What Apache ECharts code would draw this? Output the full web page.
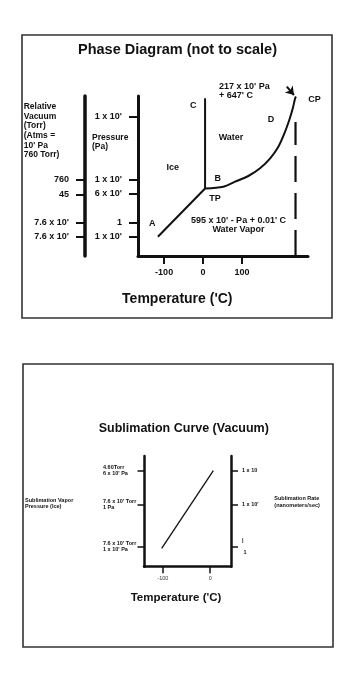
<!DOCTYPE html>
<html>
<head>
<meta charset="utf-8">
<script src="https://cdn.jsdelivr.net/npm/echarts@6/dist/echarts.min.js"></script>
<style>html,body{margin:0;padding:0;background:#fff}#c{width:355px;height:673px}</style>
</head>
<body>
<div id="c"></div>
<script>
// ---------- Phase diagram (not to scale) ----------
const phaseTempTicks = [-100, 0, 100];
// pressure axis is "not to scale": values are diagram levels
const pressureTickLevels = [19.3, 33, 62, 76.7, 139.3];
const pressureTickLabels = ["1 x 10'", "1", "6 x 10'", "1 x 10'", "1 x 10'"];
const torrTickLevels = [19.3, 33, 61, 76.7];
const torrTickLabels = ["7.6 x 10'", "7.6 x 10'", "45", "760"];

const sublimationLineTemp = [-116, 5];
const sublimationLineLevel = [19.3, 67.5];
const meltingLineTemp = [5, 5];
const meltingLineLevel = [67.5, 157.7];
const vaporCurveTemp = [5, 52, 82, 116, 146, 172, 193, 208.5, 221, 230, 236, 238];
const vaporCurveLevel = [67.5, 69.3, 74.3, 80, 87.7, 97.7, 109.3, 122.7, 136, 147.7, 157.7, 159.5];
const criticalLineTemp = [237, 237];
const criticalLineLevel = [0, 134];
const cpArrowTemp = [214.6, 233];
const cpArrowLevel = [169.3, 161];

// ---------- Sublimation curve (vacuum) ----------
const subTempTicks = [-100, 0];
const subPressureLevels = [20, 62.4, 96.4];
const subPressureLabels = ["7.6 x 10' Torr\n1 x 10' Pa", "7.6 x 10' Torr\n1 Pa", "4.60Torr\n6 x 10' Pa"];
const subRateLabels = ["|\n 1", "1 x 10'", "1 x 10"];
const subCurveTemp = [-102.6, 6.6];
const subCurveLevel = [18.4, 96];

const FF = '"Liberation Sans", Arial, Helvetica, sans-serif';
const INK = '#111';

function zip(a, b) { return a.map((v, i) => [v, b[i]]); }
function lookup(levels, labels) {
  return function (v) {
    let best = 0, d = Infinity;
    levels.forEach((l, i) => { const dd = Math.abs(l - v); if (dd < d) { d = dd; best = i; } });
    return labels[best];
  };
}
function txt(x, y, text, size, align, vAlign, lh, weight) {
  return {
    type: 'text', x: x, y: y, silent: true,
    style: {
      text: text, fill: INK,
      font: (weight || 'bold') + ' ' + size + 'px ' + FF,
      textAlign: align || 'center', align: align || 'center',
      textVerticalAlign: vAlign || 'middle', verticalAlign: vAlign || 'middle',
      lineHeight: lh || size * 1.2
    }
  };
}

const chart = echarts.init(document.getElementById('c'), null, { renderer: 'canvas' });

const baseLabel = { fontFamily: FF, fontWeight: 'bold', color: INK };

chart.setOption({
  animation: false,
  backgroundColor: '#fff',
  grid: [
    { left: 138, top: 96, width: 170, height: 160 },
    { left: 144, top: 456, width: 87, height: 110.7 }
  ],
  xAxis: [
    {
      gridIndex: 0, type: 'value', min: -167, max: 269,
      axisLine: { onZero: false, lineStyle: { color: INK, width: 3 } },
      axisTick: { show: true, customValues: phaseTempTicks, length: 8, lineStyle: { color: INK, width: 2 } },
      axisLabel: Object.assign({ customValues: phaseTempTicks, margin: 12, fontSize: 9 }, baseLabel),
      splitLine: { show: false }
    },
    {
      gridIndex: 1, type: 'value', min: -140, max: 44,
      axisLine: { onZero: false, lineStyle: { color: INK, width: 2.5 } },
      axisTick: { show: true, customValues: subTempTicks, length: 6.5, lineStyle: { color: INK, width: 1.5 } },
      axisLabel: { customValues: subTempTicks, margin: 9, fontSize: 5.5, fontFamily: FF, color: '#333' },
      splitLine: { show: false }
    }
  ],
  yAxis: [
    {
      gridIndex: 0, type: 'value', min: 0, max: 160, position: 'left',
      axisLine: { show: true, onZero: false, lineStyle: { color: INK, width: 3 } },
      axisTick: { show: true, customValues: pressureTickLevels, length: 9, lineStyle: { color: INK, width: 2 } },
      axisLabel: Object.assign({ customValues: pressureTickLevels, margin: 16, fontSize: 9,
        formatter: lookup(pressureTickLevels, pressureTickLabels) }, baseLabel),
      splitLine: { show: false }
    },
    {
      gridIndex: 0, type: 'value', min: 0, max: 160, position: 'left', offset: 53,
      axisLine: { show: true, onZero: false, lineStyle: { color: INK, width: 3.5 } },
      axisTick: { show: true, customValues: torrTickLevels, length: 9, lineStyle: { color: INK, width: 2 } },
      axisLabel: Object.assign({ customValues: torrTickLevels, margin: 16, fontSize: 9,
        formatter: lookup(torrTickLevels, torrTickLabels) }, baseLabel),
      splitLine: { show: false }
    },
    {
      gridIndex: 1, type: 'value', min: 0, max: 110.7, position: 'left',
      axisLine: { show: true, onZero: false, lineStyle: { color: INK, width: 2.5 } },
      axisTick: { show: true, customValues: subPressureLevels, length: 6.5, lineStyle: { color: INK, width: 1.5 } },
      axisLabel: Object.assign({ customValues: subPressureLevels, margin: 41, align: 'left', fontSize: 5.5, lineHeight: 6,
        formatter: lookup(subPressureLevels, subPressureLabels) }, baseLabel),
      splitLine: { show: false }
    },
    {
      gridIndex: 1, type: 'value', min: 0, max: 110.7, position: 'right',
      axisLine: { show: true, onZero: false, lineStyle: { color: INK, width: 2.5 } },
      axisTick: { show: true, customValues: subPressureLevels, length: 7, lineStyle: { color: INK, width: 1.5 } },
      axisLabel: Object.assign({ customValues: subPressureLevels, margin: 11, fontSize: 5.5, lineHeight: 12,
        formatter: lookup(subPressureLevels, subRateLabels) }, baseLabel),
      splitLine: { show: false }
    }
  ],
  series: [
    { type: 'line', xAxisIndex: 0, yAxisIndex: 0, data: zip(sublimationLineTemp, sublimationLineLevel),
      symbol: 'none', clip: false, lineStyle: { color: INK, width: 2 } },
    { type: 'line', xAxisIndex: 0, yAxisIndex: 0, data: zip(meltingLineTemp, meltingLineLevel),
      symbol: 'none', clip: false, lineStyle: { color: INK, width: 2 } },
    { type: 'line', xAxisIndex: 0, yAxisIndex: 0, data: zip(vaporCurveTemp, vaporCurveLevel),
      symbol: 'none', smooth: 0.3, clip: false, lineStyle: { color: INK, width: 2 } },
    { type: 'line', xAxisIndex: 0, yAxisIndex: 0, data: zip(criticalLineTemp, criticalLineLevel),
      symbol: 'none', clip: false, lineStyle: { color: INK, width: 2.2, type: [26, 11] } },
    { type: 'lines', coordinateSystem: 'cartesian2d', xAxisIndex: 0, yAxisIndex: 0, clip: false,
      symbol: ['none', 'arrow'], symbolSize: 8,
      lineStyle: { color: INK, width: 2, opacity: 1, curveness: 0 },
      data: [{ coords: zip(cpArrowTemp, cpArrowLevel) }] },
    { type: 'line', xAxisIndex: 1, yAxisIndex: 2, data: zip(subCurveTemp, subCurveLevel),
      symbol: 'none', clip: false, lineStyle: { color: INK, width: 1.3 } }
  ],
  graphic: [
    { type: 'rect', silent: true, z: -1, shape: { x: 22, y: 35, width: 310, height: 283 },
      style: { fill: 'none', stroke: '#333', lineWidth: 1.6 } },
    { type: 'rect', silent: true, z: -1, shape: { x: 23, y: 364, width: 310, height: 283 },
      style: { fill: 'none', stroke: '#333', lineWidth: 1.6 } },
    // top panel texts
    txt(177.5, 50, 'Phase Diagram (not to scale)', 14.5),
    txt(23.7, 102, "Relative\nVacuum\n(Torr)\n(Atms =\n10' Pa\n760 Torr)", 8.5, 'left', 'top', 9.66),
    txt(92, 133.5, 'Pressure\n(Pa)', 8.5, 'left', 'top', 9),
    txt(193.3, 106, 'C', 9),
    txt(219, 82, "217 x 10' Pa\n+ 647' C", 9, 'left', 'top', 9),
    txt(308.3, 100, 'CP', 9, 'left'),
    txt(271, 119.3, 'D', 9),
    txt(231, 138, 'Water', 9),
    txt(172.7, 167.3, 'Ice', 9),
    txt(217.7, 179, 'B', 9),
    txt(215, 198.3, 'TP', 9),
    txt(152.3, 223.5, 'A', 9),
    txt(238.5, 216, "595 x 10' - Pa + 0.01' C\nWater Vapor", 9, 'center', 'top', 9.3),
    txt(177.3, 299.5, "Temperature ('C)", 14),
    // bottom panel texts
    txt(183.8, 429, 'Sublimation Curve (Vacuum)', 12.5),
    txt(25, 497, 'Sublimation Vapor\nPressure (Ice)', 5.5, 'left', 'top', 6),
    txt(274.3, 495, 'Sublimation Rate\n(nanometers/sec)', 5.5, 'left', 'top', 6.7),
    txt(176, 598.3, "Temperature ('C)", 11.5)
  ]
});
</script>
</body>
</html>
